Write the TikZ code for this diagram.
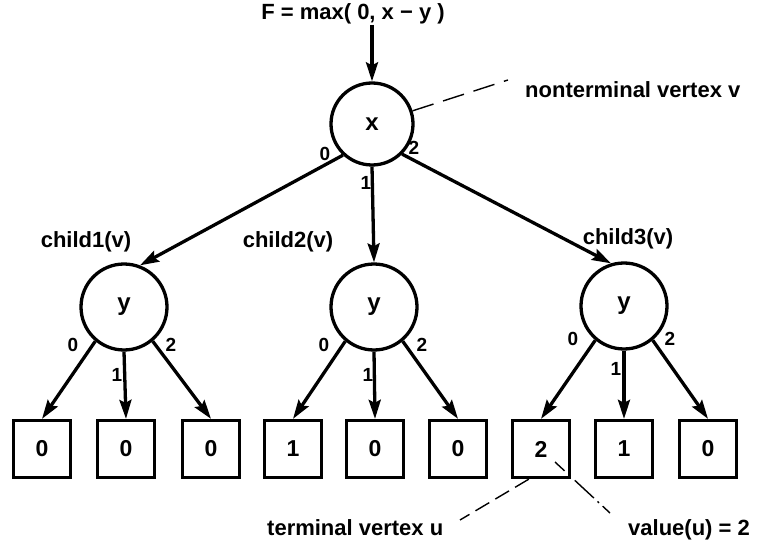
\documentclass[tikz,border=0pt]{standalone}
\usepackage{fontspec}
\setmainfont{Liberation Sans}
\usetikzlibrary{arrows.meta}
\begin{document}
\begin{tikzpicture}[x=1pt,y=-1pt,
  every node/.style={font=\fontsize{22}{26}\selectfont\bfseries, inner sep=0pt},
  vcirc/.style={circle,draw,line width=3.3pt,minimum size=86pt,font=\fontsize{24}{28}\selectfont\bfseries},
  rcirc/.style={circle,draw,line width=3.3pt,minimum size=82pt,font=\fontsize{24}{28}\selectfont\bfseries},
  tbox/.style={rectangle,draw,line width=3.3pt,minimum size=57pt,font=\fontsize{23}{26}\selectfont\bfseries},
  arr/.style={line width=3.3pt,-{Stealth[length=19pt,width=12pt,inset=3pt]}},
  elab/.style={font=\fontsize{19}{21}\selectfont\bfseries},
  lead/.style={line width=1.4pt,dash pattern=on 16pt off 7pt},
  leadnt/.style={line width=1.4pt,dash pattern=on 22pt off 10pt},
  leaddot/.style={line width=1.4pt,dash pattern=on 13pt off 14pt on 26pt off 5pt on 2pt off 5pt on 10pt off 2pt}]
\useasboundingbox (0,0) rectangle (757,540);

% title
\node[anchor=base] (F) at (353,20) {F = max( 0, x − y )};

% nonterminal vertices
\node[rcirc] (X) at (372,124) {x};
\node[vcirc] (Y1) at (124,307) {y};
\node[vcirc] (Y2) at (374,307) {y};
\node[vcirc] (Y3) at (624,306) {y};

% terminal vertices
\node[tbox] (B1) at (42,449) {0};
\node[tbox] (B2) at (126,449) {0};
\node[tbox] (B3) at (211,449) {0};
\node[tbox] (B4) at (293,449) {1};
\node[tbox] (B5) at (375,449) {0};
\node[tbox] (B6) at (458,449) {0};
\node[tbox] (B7) at (541,449) {2};
\node[tbox] (B8) at (624,449) {1};
\node[tbox] (B9) at (708,449) {0};

% arrows
\draw[arr] (F.south -| X.north) -- (X.north);
\draw[arr] (X.227) -- (Y1.69);
\draw[arr] (X.south) -- (Y2.north);
\draw[arr] (X.315) -- (Y3.107);
\draw[arr] (Y1.230) -- (B1.north);
\draw[arr] (Y1.south) -- (B2.north);
\draw[arr] (Y1.310) -- (B3.north);
\draw[arr] (Y2.230) -- (B4.north);
\draw[arr] (Y2.south) -- (B5.north);
\draw[arr] (Y2.310) -- (B6.north);
\draw[arr] (Y3.230) -- (B7.north);
\draw[arr] (Y3.south) -- (B8.north);
\draw[arr] (Y3.310) -- (B9.north);

% edge labels
\node[elab] (lx0) at (325,154) {0};
\node[elab] (lx1) at (366,183) {1};
\node[elab] (lx2) at (414,148) {2};
\node[elab] (la0) at (73,345) {0};
\node[elab] (la1) at (117,375) {1};
\node[elab] (la2) at (171,345) {2};
\node[elab] (lb0) at (324,345) {0};
\node[elab] (lb1) at (368,375) {1};
\node[elab] (lb2) at (422,345) {2};
\node[elab] (lc0) at (573,339) {0};
\node[elab] (lc1) at (616,369) {1};
\node[elab] (lc2) at (670,339) {2};

% child labels
\node[anchor=base] (c1) at (86,247) {child1(v)};
\node[anchor=base] (c2) at (288,247) {child2(v)};
\node[anchor=base] (c3) at (628,244) {child3(v)};

% annotations
\node[anchor=base west] (NT) at (525,98) {nonterminal vertex v};
\coordinate (ntend) at (508,80);
\draw[leadnt] (X.18) -- (ntend);

\node[anchor=base west] (TV) at (267,535) {terminal vertex u};
\coordinate (tvend) at (460,520);
\draw[lead] (B7.-112) -- (tvend);

\node[anchor=base west] (VU) at (628,535) {value(u) = 2};
\coordinate (vstart) at (555,462);
\coordinate (vend) at (610,513);
\draw[leaddot] (vstart) -- (vend);
\end{tikzpicture}
\end{document}
